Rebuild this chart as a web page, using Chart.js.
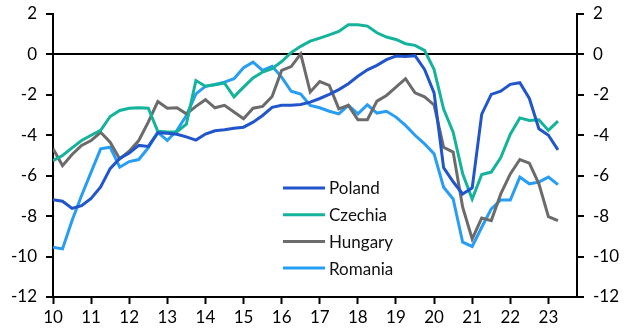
<!DOCTYPE html>
<html>
<head>
<meta charset="utf-8">
<script src="https://cdn.jsdelivr.net/npm/chart.js@4"></script>
<style>
  html, body { margin: 0; padding: 0; background: #fff; }
  #wrap { width: 628px; height: 335px; }
</style>
</head>
<body>
<div id="wrap"><canvas id="cpiChart" width="628" height="335"></canvas></div>
<script>
// quarterly, 2010Q1 .. 2023Q2
const startYear = 10;
const yearTicks = [10, 11, 12, 13, 14, 15, 16, 17, 18, 19, 20, 21, 22, 23];
const yTicks = [-12, -10, -8, -6, -4, -2, 0, 2];

const poland = [-7.19, -7.26, -7.62, -7.48, -7.12, -6.55, -5.65, -5.15, -4.88, -4.5,
  -4.55, -3.88, -3.9, -3.95, -4.08, -4.24, -3.94, -3.78, -3.73, -3.65,
  -3.6, -3.35, -3.02, -2.62, -2.52, -2.52, -2.48, -2.36, -2.18, -1.98,
  -1.74, -1.45, -1.08, -0.76, -0.54, -0.26, -0.08, -0.1, -0.06, -0.74,
  -1.9, -5.6, -6.3, -6.9, -6.6, -2.95, -1.98, -1.82, -1.48, -1.4,
  -2.18, -3.68, -4.0, -4.72];
const czechia = [-5.25, -5.0, -4.62, -4.26, -4.0, -3.76, -3.07, -2.77, -2.66, -2.64,
  -2.66, -3.8, -3.84, -3.82, -3.45, -1.29, -1.57, -1.5, -1.42, -2.1,
  -1.62, -1.16, -0.87, -0.71, -0.35, 0.09, 0.4, 0.66, 0.81, 0.97,
  1.14, 1.47, 1.47, 1.4, 1.07, 0.86, 0.74, 0.53, 0.45, 0.2,
  -0.75, -2.7, -3.85, -5.9, -7.15, -5.94, -5.82, -5.1, -3.95, -3.14,
  -3.27, -3.23, -3.76, -3.3];
const hungary = [-4.67, -5.5, -4.95, -4.5, -4.26, -3.85, -4.34, -5.17, -4.79, -4.26,
  -3.35, -2.33, -2.66, -2.64, -2.94, -2.57, -2.24, -2.64, -2.52, -2.85,
  -3.18, -2.66, -2.57, -2.08, -0.79, -0.6, 0.03, -1.86, -1.34, -1.53,
  -2.69, -2.52, -3.23, -3.23, -2.31, -2.03, -1.62, -1.2, -1.9, -2.1,
  -2.5, -4.59, -4.83, -7.56, -9.13, -8.09, -8.22, -6.9, -5.91, -5.2,
  -5.38, -6.4, -8.02, -8.22];
const romania = [-9.54, -9.62, -8.22, -6.98, -5.82, -4.67, -4.59, -5.58, -5.3, -5.2,
  -4.62, -3.85, -4.26, -3.76, -3.02, -1.95, -1.58, -1.49, -1.37, -1.2,
  -0.66, -0.38, -0.79, -0.59, -1.12, -1.82, -1.96, -2.52, -2.64, -2.81,
  -2.94, -2.52, -2.94, -2.49, -2.9, -2.81, -3.1, -3.51, -4.0, -4.42,
  -4.92, -6.57, -7.15, -9.29, -9.5, -8.55, -7.64, -7.2, -7.2, -6.07,
  -6.4, -6.32, -6.07, -6.44];

const toPoints = arr => arr.map((v, i) => ({ x: startYear + i * 0.25, y: v }));

const FONT = { family: 'Lato, "Open Sans", sans-serif', size: 17 };

// legend drawn inside the plot, lower middle
const innerLegend = {
    id: 'innerLegend',
    afterDraw(chart) {
        const { ctx } = chart;
        ctx.save();
        ctx.font = `${FONT.size}px ${FONT.family}`;
        ctx.textBaseline = 'middle';
        chart.data.datasets.forEach((ds, i) => {
            const y = 188 + i * 26.7;
            ctx.strokeStyle = ds.borderColor;
            ctx.lineWidth = 3;
            ctx.beginPath();
            ctx.moveTo(283, y);
            ctx.lineTo(325, y);
            ctx.stroke();
            ctx.fillStyle = '#111';
            ctx.fillText(ds.label, 329, y + 1);
        });
        ctx.restore();
    }
};

const yAxis = (position) => ({
    type: 'linear',
    position,
    min: -12,
    max: 2,
    afterBuildTicks: s => { s.ticks = yTicks.map(v => ({ value: v })); },
    afterFit: s => {
        s.width = position === 'left' ? 53 : 51;
        s.paddingTop = 0;
        s.paddingBottom = 0;
    },
    border: { display: true, color: '#000', width: 2 },
    grid: {
        drawOnChartArea: position === 'left',
        color: c => (c.tick && c.tick.value === 0 ? '#000' : 'rgba(0,0,0,0)'),
        lineWidth: 2,
        tickColor: '#000',
        tickLength: 7,
        tickWidth: 2
    },
    ticks: { color: '#000', font: FONT, padding: 9 }
});

new Chart(document.getElementById('cpiChart'), {
    type: 'line',
    data: {
        datasets: [
            { label: 'Poland', data: toPoints(poland), borderColor: '#2055CC' },
            { label: 'Czechia', data: toPoints(czechia), borderColor: '#14B39B' },
            { label: 'Hungary', data: toPoints(hungary), borderColor: '#6B6B6B' },
            { label: 'Romania', data: toPoints(romania), borderColor: '#279DF5' }
        ].map(d => ({ ...d, borderWidth: 3, pointRadius: 0, tension: 0, fill: false }))
    },
    options: {
        responsive: false,
        animation: false,
        layout: { padding: { top: 14, left: 0, right: 0, bottom: 0 } },
        plugins: {
            legend: { display: false },
            tooltip: { enabled: false }
        },
        scales: {
            x: {
                type: 'linear',
                min: 10,
                max: 23.75,
                afterBuildTicks: s => { s.ticks = yearTicks.map(v => ({ value: v })); },
                afterFit: s => {
                    s.height = 38;
                    s.paddingLeft = 0;
                    s.paddingRight = 0;
                },
                border: { display: true, color: '#000', width: 2 },
                grid: { drawOnChartArea: false, tickColor: '#000', tickLength: 7, tickWidth: 2 },
                ticks: { color: '#000', font: FONT, padding: 3, maxRotation: 0 }
            },
            y: yAxis('left'),
            y2: yAxis('right')
        }
    },
    plugins: [innerLegend]
});
</script>
</body>
</html>
